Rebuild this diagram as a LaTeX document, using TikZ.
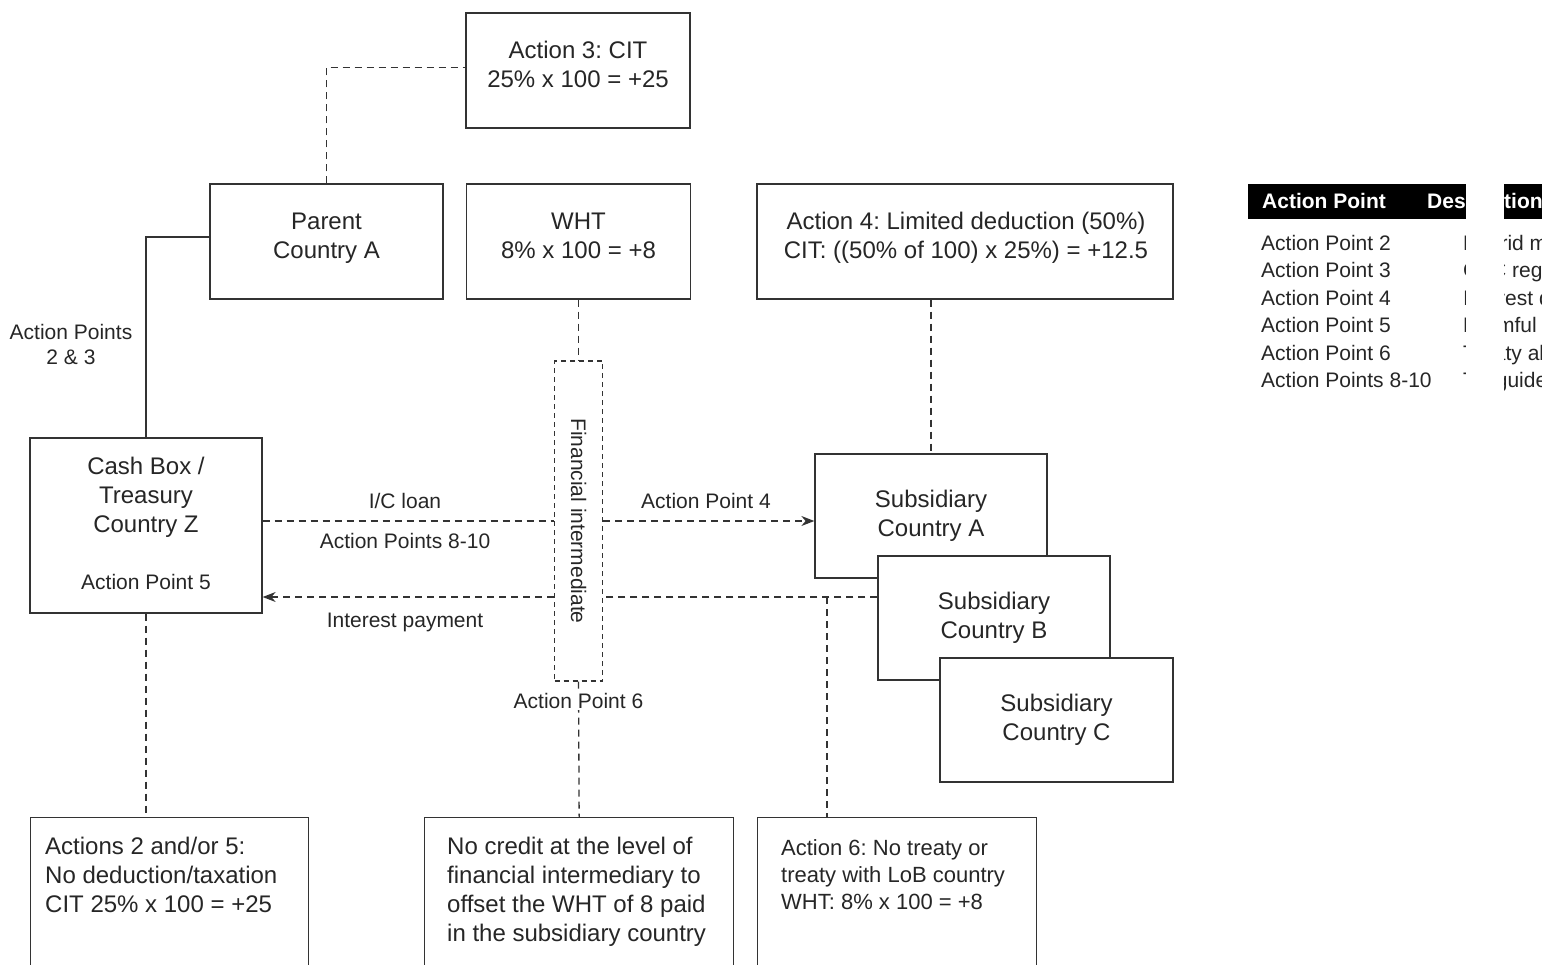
\documentclass[tikz,border=0pt]{standalone}
\usepackage{fontspec}
\setmainfont{Liberation Sans}
\frenchspacing
\usetikzlibrary{arrows.meta}

\begin{document}
\begin{tikzpicture}[x=1pt, y=-1pt, >={Stealth[length=13pt,width=10pt]},
    box/.style={draw=black!80, line width=1.3pt, fill=white, inner sep=0pt, align=center, text=black!85, font=\fontsize{24}{29}\selectfont},
    boxtxt/.style={inner sep=0pt, align=center, text=black!85, font=\fontsize{24}{29}\selectfont},
    txt/.style={inner sep=0pt, align=left, anchor=north west, text=black!85, font=\fontsize{24}{29}\selectfont},
    lbl/.style={inner sep=1pt, align=center, text=black!85, font=\fontsize{21}{25}\selectfont},
    dsh/.style={draw=black!80, line width=1.3pt, dash pattern=on 7pt off 5pt},
    sld/.style={draw=black!80, line width=1.3pt}]
    \useasboundingbox (0,0) rectangle (1542,964);
    \clip (0,0) rectangle (1542,964);

    % Top row
    \node[box, minimum width=224pt, minimum height=115pt] (act3) at (578,70.5) {};
    \node[boxtxt] (act3txt) at (578,64.5) {Action 3: CIT\\25\% x 100 = +25};
    \node[box, minimum width=233pt, minimum height=115pt] (parent) at (326.5,241.5) {};
    \node[boxtxt] (parenttxt) at (326.5,238.5) {Parent\\Country A};
    \node[box, minimum width=224pt, minimum height=115pt] (wht) at (578.5,241.5) {};
    \node[boxtxt] (whttxt) at (578.5,235.5) {WHT\\8\% x 100 = +8};
    \node[box, minimum width=416pt, minimum height=115pt] (act4) at (965,241.5) {};
    \node[boxtxt] (act4txt) at (966,237.5) {Action 4: Limited deduction (50\%)\\CIT: ((50\% of 100) x 25\%) = +12.5};

    % Cash box
    \node[box, minimum width=232pt, minimum height=175pt] (cash) at (146,525.5) {};
    \node[boxtxt] (cashtxt) at (146,497) {Cash Box /\\Treasury\\Country Z};
    \node[lbl] (cashap) at (146,582) {Action Point 5};

    % Financial intermediate
    \node[draw=black!80, line width=1.3pt, dash pattern=on 5pt off 4pt, minimum width=48pt, minimum height=320pt] (fi) at (578.5,521) {};
    \node[lbl, rotate=-90] (fitxt) at (fi) {Financial intermediate};

    % Subsidiaries
    \node[box, minimum width=232pt, minimum height=124pt] (subA) at (931,516) {Subsidiary\\Country A};
    \node[box, minimum width=232pt, minimum height=124pt] (subB) at (994,618) {Subsidiary\\Country B};
    \node[box, minimum width=233pt, minimum height=124pt] (subC) at (1056.5,720) {Subsidiary\\Country C};

    % Bottom row
    \node[box, anchor=north west, minimum width=278pt, minimum height=200pt] (b1) at (30,817) {};
    \node[txt] (b1txt) at (45,837) {Actions 2 and/or 5:\\No deduction/taxation\\CIT 25\% x 100 = +25};
    \node[box, anchor=north west, minimum width=309pt, minimum height=200pt] (b2) at (424,817) {};
    \node[txt] (b2txt) at (447,837) {No credit at the level of\\financial intermediary to\\offset the WHT of 8 paid\\in the subsidiary country};
    \node[box, anchor=north west, minimum width=279pt, minimum height=200pt] (b3) at (757,817) {};
    \node[txt, font=\fontsize{22}{27}\selectfont] (b3txt) at (781,839) {Action 6: No treaty or\\treaty with LoB country\\WHT: 8\% x 100 = +8};

    % Connectors
    \coordinate (loanY) at (0,521);
    \coordinate (payY) at (0,597);
    \coordinate (branch) at (827,597);
    \draw[dsh] (parent.north) |- ([yshift=3pt]act3.west);
    \draw[sld] ([yshift=4.5pt]parent.west) -| (cash.north);
    \node[lbl] (ap23) at (71,344) {Action Points\\2 \& 3};
    \draw[dsh] (wht.south) -- (fi.north);
    \draw[dsh] (fi.south) -- (b2.north);
    \node[lbl, fill=white] (ap6) at (578.5,701) {Action Point 6};
    \draw[dsh] (subA.north |- act4.south) -- (subA.north);
    \draw[dsh] (cash.south) -- (cash.south |- b1.north);

    % Loan and interest
    \draw[dsh] (cash.east |- loanY) -- (fi.west |- loanY);
    \draw[dsh, ->] (fi.east |- loanY) -- (subA.west |- loanY);
    \draw[dsh] (subB.west |- payY) -- (fi.east |- payY);
    \draw[dsh, ->] (fi.west |- payY) -- (cash.east |- payY);
    \draw[dsh] (branch) -- (branch |- b3.north);
    \node[lbl] (loan) at (405,501) {I/C loan};
    \node[lbl] (ap810) at (405,541) {Action Points 8-10};
    \node[lbl] (ap4) at (706,501) {Action Point 4};
    \node[lbl] (pay) at (405,622) {Interest payment};

    % Table
    \fill[black] (1248,184) rectangle (1542,219);
    \node[inner sep=0pt, anchor=base west, text=white, font=\fontsize{21}{25}\selectfont\bfseries] (thap) at (1262,208.5) {Action Point};
    \node[inner sep=0pt, anchor=base west, text=white, font=\fontsize{21}{25}\selectfont\bfseries] (thdesc) at (1427,208.5) {Description};
    \foreach \ap/\desc [count=\i] in {Action Point 2/Hybrid mismatch, Action Point 3/CFC regimes,
        Action Point 4/Interest deduction, Action Point 5/Harmful tax practices,
        Action Point 6/Treaty abuse, Action Points 8-10/TP guidelines} {
        \pgfmathsetmacro\yy{250.5+(\i-1)*27.4}
        \node[lbl, inner sep=0pt, anchor=base west] (ap\i) at (1261,\yy) {\ap};
        \node[lbl, inner sep=0pt, anchor=base west] (desc\i) at (1463,\yy) {\desc};
    }
    \fill[white] (1466,180) rectangle (1504,400);
\end{tikzpicture}
\end{document}
